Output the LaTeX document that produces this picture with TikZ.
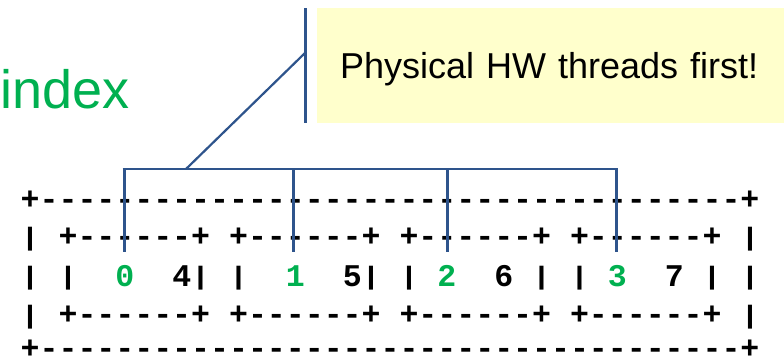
\documentclass[tikz,border=0pt]{standalone}
\usepackage{fontspec}
\usepackage{graphicx}
\setsansfont{Liberation Sans}
\setmonofont{Liberation Mono}
\definecolor{idxgreen}{RGB}{0,176,80}
\definecolor{noteyellow}{RGB}{255,255,204}
\definecolor{linkblue}{RGB}{46,84,140}
\newcommand{\gd}[1]{\textcolor{idxgreen}{#1}}
\newcommand{\vb}{\raisebox{1.5pt}{\scalebox{1}[0.8]{|}}}
\begin{document}
\begin{tikzpicture}[x=1pt,y=-1pt,
  idxlabel/.style={anchor=base west, inner sep=0pt, text=idxgreen,
    font=\sffamily\fontsize{54}{54}\selectfont},
  notebox/.style={anchor=north west, fill=noteyellow, inner xsep=23pt, inner ysep=40pt,
    text width=440pt, align=left, text height=30pt, text depth=5pt,
    font=\sffamily\fontsize{36}{36}\selectfont},
  asciirow/.style={anchor=base west, inner sep=0pt,
    font=\ttfamily\bfseries\fontsize{31.57}{31.57}\selectfont},
  thickline/.style={draw=linkblue, line width=3pt},
  thinline/.style={draw=linkblue, line width=2.2pt}]
\useasboundingbox (0,0) rectangle (784,360);

\node[idxlabel] (index) at (0,108) {index};
\node[notebox] (note) at (317,8) {Physical HW threads first!};

\node[asciirow] (r1) at (20.5,209.5) {+-------------------------------------+};
\node[asciirow] (r2) at (20.5,246.5) {\vb\ +------+\ +------+\ +------+\ +------+\ \vb};
\node[asciirow] (r3) at (20.5,286) {\vb\ \vb\ \ \gd{0}\ \ 4\vb\ \vb\ \ \gd{1}\ \ 5\vb\ \vb\ \gd{2}\ \ 6\ \vb\ \vb\ \gd{3}\ \ 7\ \vb\ \vb};
\node[asciirow] (r4) at (20.5,324.5) {\vb\ +------+\ +------+\ +------+\ +------+\ \vb};
\node[asciirow] (r5) at (20.5,358.5) {+-------------------------------------+};

\coordinate (calltop) at (305,8);
\coordinate (callbot) at (305,123);
\coordinate (callknee) at (305,53);
\coordinate (brk) at (186,169);
\coordinate (b0) at (124,169);
\coordinate (b1) at (293,169);
\coordinate (b2) at (447,169);
\coordinate (b3) at (616,169);
\coordinate (t0) at (124,252);
\coordinate (t1) at (293,252);
\coordinate (t2) at (447,252);
\coordinate (t3) at (616,252);

\draw[thickline] (calltop) -- (callbot);
\draw[thinline] (callknee) -- (brk);
\draw[thinline] ([xshift=-1.5pt]b0) -- ([xshift=1.5pt]b3);
\draw[thickline] (b0) -- (t0);
\draw[thickline] (b1) -- (t1);
\draw[thickline] (b2) -- (t2);
\draw[thickline] (b3) -- (t3);
\end{tikzpicture}
\end{document}
